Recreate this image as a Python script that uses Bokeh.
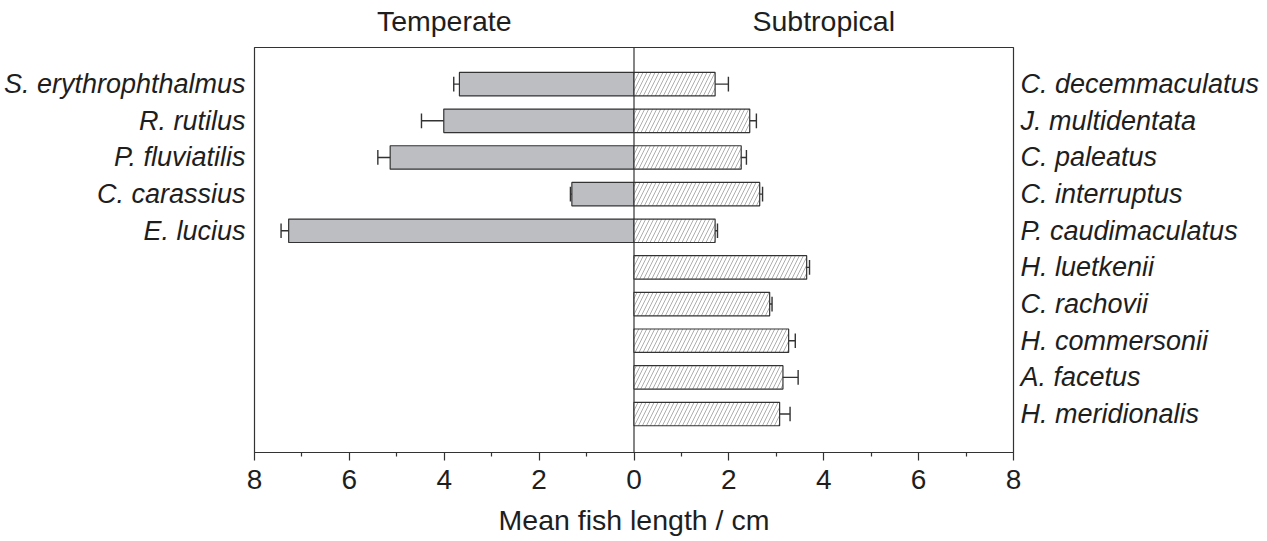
from bokeh.plotting import figure
from bokeh.models import Range1d, LinearAxis, FixedTicker, Span
from bokeh.embed import file_html
from bokeh.resources import INLINE

# ---------------- data ----------------
temperate_species = ["S. erythrophthalmus", "R. rutilus", "P. fluviatilis",
                     "C. carassius", "E. lucius"]
temperate_mean = [3.68, 4.01, 5.14, 1.31, 7.28]
temperate_err = [0.12, 0.47, 0.26, 0.03, 0.16]

subtropical_species = ["C. decemmaculatus", "J. multidentata", "C. paleatus",
                       "C. interruptus", "P. caudimaculatus", "H. luetkenii",
                       "C. rachovii", "H. commersonii", "A. facetus",
                       "H. meridionalis"]
subtropical_mean = [1.71, 2.44, 2.26, 2.65, 1.71, 3.64, 2.86, 3.26, 3.14, 3.07]
subtropical_err = [0.28, 0.14, 0.11, 0.06, 0.05, 0.06, 0.05, 0.14, 0.32, 0.22]

x_ticks = [-8, -6, -4, -2, 0, 2, 4, 6, 8]
x_tick_labels = ["8", "6", "4", "2", "0", "2", "4", "6", "8"]
group_titles = ["Temperate", "Subtropical"]
group_centers = [-4, 4]
x_axis_title = "Mean fish length / cm"

# ---------------- styling ----------------
FONT = "Liberation Sans"
TXT = "#1e1e1e"
LINE = "#333333"

t_rows = list(range(1, len(temperate_species) + 1))
s_rows = list(range(1, len(subtropical_species) + 1))

p = figure(width=1262, height=541,
           x_range=Range1d(-8, 8), y_range=Range1d(11.05, 0),
           output_backend="svg", toolbar_location=None,
           x_axis_location=None, y_axis_location=None,
           min_border_left=251, min_border_right=249,
           min_border_top=47, min_border_bottom=89)
p.xgrid.visible = False
p.ygrid.visible = False
p.outline_line_color = LINE
p.outline_line_width = 1.2
p.background_fill_color = "white"
p.border_fill_color = "white"

# zero line
p.add_layout(Span(location=0, dimension="height", line_color=LINE,
                  line_width=1.2, level="underlay"))

BAR_H = 0.64
# temperate bars (to the left)
p.hbar(y=t_rows, left=[-m for m in temperate_mean], right=0, height=BAR_H,
       fill_color="#bdbec2", line_color=LINE, line_width=1.2)
# subtropical bars (to the right, hatched)
p.hbar(y=s_rows, left=0, right=subtropical_mean, height=BAR_H,
       fill_color="white", hatch_pattern="/", hatch_color="#999999",
       hatch_scale=8, hatch_weight=0.8, line_color=LINE, line_width=1.2)

CAP = 0.2
# error bars temperate
t_end = [-(m + e) for m, e in zip(temperate_mean, temperate_err)]
p.segment(x0=[-m for m in temperate_mean], x1=t_end, y0=t_rows, y1=t_rows,
          line_color=LINE, line_width=1.4)
p.segment(x0=t_end, x1=t_end, y0=[r - CAP for r in t_rows],
          y1=[r + CAP for r in t_rows], line_color=LINE, line_width=1.4)
# error bars subtropical
s_end = [m + e for m, e in zip(subtropical_mean, subtropical_err)]
p.segment(x0=subtropical_mean, x1=s_end, y0=s_rows, y1=s_rows,
          line_color=LINE, line_width=1.4)
p.segment(x0=s_end, x1=s_end, y0=[r - CAP for r in s_rows],
          y1=[r + CAP for r in s_rows], line_color=LINE, line_width=1.4)

# bottom axis
minor = [(a + b) / 2 for a, b in zip(x_ticks[:-1], x_ticks[1:])]
xa = LinearAxis(ticker=FixedTicker(ticks=x_ticks, minor_ticks=minor),
                major_label_overrides={t: l for t, l in zip(x_ticks, x_tick_labels)},
                axis_label=x_axis_title)
xa.axis_line_color = LINE
xa.axis_line_width = 1.2
xa.major_tick_line_color = LINE
xa.major_tick_line_width = 1.2
xa.major_tick_in = 0
xa.major_tick_out = 8
xa.minor_tick_line_color = LINE
xa.minor_tick_line_width = 1.2
xa.minor_tick_in = 0
xa.minor_tick_out = 4
xa.major_label_standoff = 9
xa.major_label_text_font = FONT
xa.major_label_text_font_size = "28px"
xa.major_label_text_color = TXT
xa.axis_label_standoff = 12
xa.axis_label_text_font = FONT
xa.axis_label_text_font_size = "28.5px"
xa.axis_label_text_font_style = "normal"
xa.axis_label_text_color = TXT
p.add_layout(xa, "below")

# top "axis" for group titles
ta = LinearAxis(ticker=FixedTicker(ticks=group_centers, minor_ticks=[]),
                major_label_overrides={c: t for c, t in zip(group_centers, group_titles)})
ta.axis_line_color = None
ta.major_tick_line_color = None
ta.minor_tick_line_color = None
ta.major_label_standoff = 5
ta.major_label_text_font = FONT
ta.major_label_text_font_size = "28.5px"
ta.major_label_text_color = TXT
p.add_layout(ta, "above")


def species_axis(rows, names, standoff):
    ax = LinearAxis(ticker=FixedTicker(ticks=rows, minor_ticks=[]),
                    major_label_overrides={r: n for r, n in zip(rows, names)})
    ax.axis_line_color = None
    ax.major_tick_line_color = None
    ax.minor_tick_line_color = None
    ax.major_label_standoff = standoff
    ax.major_label_text_font = FONT
    ax.major_label_text_font_size = "27px"
    ax.major_label_text_font_style = "italic"
    ax.major_label_text_color = TXT
    return ax


p.add_layout(species_axis(t_rows, temperate_species, 3), "left")
p.add_layout(species_axis(s_rows, subtropical_species, 1), "right")

open("out.html", "w").write(file_html(p, INLINE))
